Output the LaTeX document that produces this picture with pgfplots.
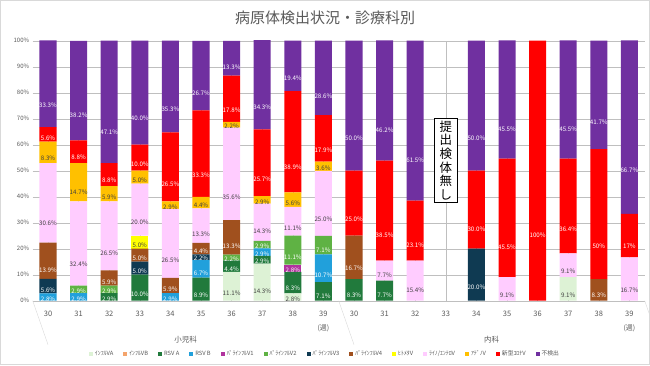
\documentclass[border=0pt]{standalone}
\usepackage{fontspec}
\setmainfont{Noto Sans CJK JP}
\usepackage{pgfplots}
\pgfplotsset{compat=1.18}
\definecolor{cIA}{HTML}{DDF2D5}
\definecolor{cIB}{HTML}{F4A46C}
\definecolor{cRA}{HTML}{217A3C}
\definecolor{cRB}{HTML}{21A0DB}
\definecolor{cP1}{HTML}{B1339E}
\definecolor{cP2}{HTML}{5FB244}
\definecolor{cP3}{HTML}{0F3A52}
\definecolor{cP4}{HTML}{A0501E}
\definecolor{cHM}{HTML}{FFFF00}
\definecolor{cRE}{HTML}{FFCCFF}
\definecolor{cAD}{HTML}{FFC000}
\definecolor{cCV}{HTML}{FF0000}
\definecolor{cND}{HTML}{7030A0}
\definecolor{txt}{HTML}{595959}
\definecolor{dark}{HTML}{404040}
\definecolor{grid}{HTML}{D9D9D9}
\begin{document}
\begin{tikzpicture}
\path[use as bounding box] (0,0) rectangle (650pt,365pt);
\draw[color=grid] (0.5pt,0.5pt) rectangle (649.5pt,364.5pt);
\node[font=\fontsize{15}{17}\selectfont, text=txt] at (325pt,347pt) {病原体検出状況・診療科別};
\begin{axis}[
  at={(32.7pt,64.3pt)}, anchor=south west,
  scale only axis, width=612pt, height=260pt,
  clip=false,
  ybar stacked, bar width=0.556,
  xmin=-0.5, xmax=19.5, ymin=0, ymax=100,
  enlargelimits=false,
  xtick={0,...,19},
  xticklabels={30,31,32,33,34,35,36,37,38,39,30,31,32,33,34,35,36,37,38,39},
  xticklabel style={font=\fontsize{7.5}{9}\selectfont, text=txt, yshift=-7pt},
  xtick style={draw=none}, ytick style={draw=none},
  ytick={0,10,...,100},
  yticklabel={\pgfmathprintnumber{\tick}\%},
  yticklabel style={font=\fontsize{6}{7}\selectfont, text=txt},
  /pgf/number format/assume math mode=true,
  ymajorgrids, grid style={grid},
  axis line style={draw=none},
  every axis plot/.append style={draw=none},
  visualization depends on={value \thisrow{y}\as\rawy},
  point meta=explicit symbolic,
  nodes near coords,
  every node near coord/.append style={font=\fontsize{6.2}{7}\selectfont, anchor=center, yshift=-0.65pt*\rawy, inner sep=0pt},
  legend columns=13,
  legend style={at={(axis description cs:0.4776,-0.205)}, anchor=center, draw=none, font=\fontsize{5.8}{7}\selectfont, text=txt, /tikz/every even column/.append style={column sep=8pt}},
  legend image code/.code={\fill[#1] (0pt,-2pt) rectangle (4pt,2pt);},
]
% インフルA
\addplot[fill=cIA, nodes near coords style={text=dark}] table[row sep=\\, meta=l]{x y l\\
0 0 {}\\ 1 0 {}\\ 2 0 {}\\ 3 0 {}\\ 4 0 {}\\ 5 0 {}\\ 6 11.1 11.1\%\\ 7 14.3 14.3\%\\ 8 2.8 2.8\%\\ 9 0 {}\\
10 0 {}\\ 11 0 {}\\ 12 0 {}\\ 13 0 {}\\ 14 0 {}\\ 15 0 {}\\ 16 0 {}\\ 17 9.1 9.1\%\\ 18 0 {}\\ 19 0 {}\\};
\addlegendentry{ｲﾝﾌﾙVA}
% インフルB
\addplot[fill=cIB, nodes near coords style={text=white}] table[row sep=\\, meta=l]{x y l\\
0 0 {}\\ 1 0 {}\\ 2 0 {}\\ 3 0 {}\\ 4 0 {}\\ 5 0 {}\\ 6 0 {}\\ 7 0 {}\\ 8 0 {}\\ 9 0 {}\\
10 0 {}\\ 11 0 {}\\ 12 0 {}\\ 13 0 {}\\ 14 0 {}\\ 15 0 {}\\ 16 0 {}\\ 17 0 {}\\ 18 0 {}\\ 19 0 {}\\};
\addlegendentry{ｲﾝﾌﾙVB}
% RSV A
\addplot[fill=cRA, nodes near coords style={text=white}] table[row sep=\\, meta=l]{x y l\\
0 0 {}\\ 1 0 {}\\ 2 2.9 2.9\%\\ 3 10.0 10.0\%\\ 4 0 {}\\ 5 8.9 8.9\%\\ 6 4.4 4.4\%\\ 7 2.9 2.9\%\\ 8 8.3 8.3\%\\ 9 7.1 7.1\%\\
10 8.3 8.3\%\\ 11 7.7 7.7\%\\ 12 0 {}\\ 13 0 {}\\ 14 0 {}\\ 15 0 {}\\ 16 0 {}\\ 17 0 {}\\ 18 0 {}\\ 19 0 {}\\};
\addlegendentry{RSV A}
% RSV B
\addplot[fill=cRB, nodes near coords style={text=white}] table[row sep=\\, meta=l]{x y l\\
0 2.8 2.8\%\\ 1 2.9 2.9\%\\ 2 0 {}\\ 3 0 {}\\ 4 2.9 2.9\%\\ 5 6.7 6.7\%\\ 6 0 {}\\ 7 2.9 2.9\%\\ 8 0 {}\\ 9 10.7 10.7\%\\
10 0 {}\\ 11 0 {}\\ 12 0 {}\\ 13 0 {}\\ 14 0 {}\\ 15 0 {}\\ 16 0 {}\\ 17 0 {}\\ 18 0 {}\\ 19 0 {}\\};
\addlegendentry{RSV B}
% パラV1
\addplot[fill=cP1, nodes near coords style={text=white}] table[row sep=\\, meta=l]{x y l\\
0 0 {}\\ 1 0 {}\\ 2 0 {}\\ 3 0 {}\\ 4 0 {}\\ 5 0 {}\\ 6 0 {}\\ 7 0 {}\\ 8 2.8 2.8\%\\ 9 0 {}\\
10 0 {}\\ 11 0 {}\\ 12 0 {}\\ 13 0 {}\\ 14 0 {}\\ 15 0 {}\\ 16 0 {}\\ 17 0 {}\\ 18 0 {}\\ 19 0 {}\\};
\addlegendentry{ﾊﾟﾗｲﾝﾌﾙV1}
% パラV2
\addplot[fill=cP2, nodes near coords style={text=white}] table[row sep=\\, meta=l]{x y l\\
0 0 {}\\ 1 2.9 2.9\%\\ 2 2.9 2.9\%\\ 3 0 {}\\ 4 0 {}\\ 5 0 {}\\ 6 2.2 2.2\%\\ 7 2.9 2.9\%\\ 8 11.1 11.1\%\\ 9 7.1 7.1\%\\
10 0 {}\\ 11 0 {}\\ 12 0 {}\\ 13 0 {}\\ 14 0 {}\\ 15 0 {}\\ 16 0 {}\\ 17 0 {}\\ 18 0 {}\\ 19 0 {}\\};
\addlegendentry{ﾊﾟﾗｲﾝﾌﾙV2}
% パラV3
\addplot[fill=cP3, nodes near coords style={text=white}] table[row sep=\\, meta=l]{x y l\\
0 5.6 5.6\%\\ 1 0 {}\\ 2 0 {}\\ 3 5.0 5.0\%\\ 4 0 {}\\ 5 2.2 2.2\%\\ 6 0 {}\\ 7 0 {}\\ 8 0 {}\\ 9 0 {}\\
10 0 {}\\ 11 0 {}\\ 12 0 {}\\ 13 0 {}\\ 14 20.0 20.0\%\\ 15 0 {}\\ 16 0 {}\\ 17 0 {}\\ 18 0 {}\\ 19 0 {}\\};
\addlegendentry{ﾊﾟﾗｲﾝﾌﾙV3}
% パラV4
\addplot[fill=cP4, nodes near coords style={text=white}] table[row sep=\\, meta=l]{x y l\\
0 13.9 13.9\%\\ 1 0 {}\\ 2 5.9 5.9\%\\ 3 5.0 5.0\%\\ 4 5.9 5.9\%\\ 5 4.4 4.4\%\\ 6 13.3 13.3\%\\ 7 0 {}\\ 8 0 {}\\ 9 0 {}\\
10 16.7 16.7\%\\ 11 0 {}\\ 12 0 {}\\ 13 0 {}\\ 14 0 {}\\ 15 0 {}\\ 16 0 {}\\ 17 0 {}\\ 18 8.3 8.3\%\\ 19 0 {}\\};
\addlegendentry{ﾊﾟﾗｲﾝﾌﾙV4}
% ヒトメタ
\addplot[fill=cHM, nodes near coords style={text=dark}] table[row sep=\\, meta=l]{x y l\\
0 0 {}\\ 1 0 {}\\ 2 0 {}\\ 3 5.0 5.0\%\\ 4 0 {}\\ 5 0 {}\\ 6 0 {}\\ 7 0 {}\\ 8 0 {}\\ 9 0 {}\\
10 0 {}\\ 11 0 {}\\ 12 0 {}\\ 13 0 {}\\ 14 0 {}\\ 15 0 {}\\ 16 0 {}\\ 17 0 {}\\ 18 0 {}\\ 19 0 {}\\};
\addlegendentry{ﾋﾄﾒﾀV}
% ライノ/エンテロ
\addplot[fill=cRE, nodes near coords style={text=dark}] table[row sep=\\, meta=l]{x y l\\
0 30.6 30.6\%\\ 1 32.4 32.4\%\\ 2 26.5 26.5\%\\ 3 20.0 20.0\%\\ 4 26.5 26.5\%\\ 5 13.3 13.3\%\\ 6 35.6 35.6\%\\ 7 14.3 14.3\%\\ 8 11.1 11.1\%\\ 9 25.0 25.0\%\\
10 0 {}\\ 11 7.7 7.7\%\\ 12 15.4 15.4\%\\ 13 0 {}\\ 14 0 {}\\ 15 9.1 9.1\%\\ 16 0 {}\\ 17 9.1 9.1\%\\ 18 0 {}\\ 19 16.7 16.7\%\\};
\addlegendentry{ﾗｲﾉ/ｴﾝﾃﾛV}
% アデノ
\addplot[fill=cAD, nodes near coords style={text=dark}] table[row sep=\\, meta=l]{x y l\\
0 8.3 8.3\%\\ 1 14.7 14.7\%\\ 2 5.9 5.9\%\\ 3 5.0 5.0\%\\ 4 2.9 2.9\%\\ 5 4.4 4.4\%\\ 6 2.2 2.2\%\\ 7 2.9 2.9\%\\ 8 5.6 5.6\%\\ 9 3.6 3.6\%\\
10 0 {}\\ 11 0 {}\\ 12 0 {}\\ 13 0 {}\\ 14 0 {}\\ 15 0 {}\\ 16 0 {}\\ 17 0 {}\\ 18 0 {}\\ 19 0 {}\\};
\addlegendentry{ｱﾃﾞﾉV}
% 新型コロナ
\addplot[fill=cCV, nodes near coords style={text=white}] table[row sep=\\, meta=l]{x y l\\
0 5.6 5.6\%\\ 1 8.8 8.8\%\\ 2 8.8 8.8\%\\ 3 10.0 10.0\%\\ 4 26.5 26.5\%\\ 5 33.3 33.3\%\\ 6 17.8 17.8\%\\ 7 25.7 25.7\%\\ 8 38.9 38.9\%\\ 9 17.9 17.9\%\\
10 25.0 25.0\%\\ 11 38.5 38.5\%\\ 12 23.1 23.1\%\\ 13 0 {}\\ 14 30.0 30.0\%\\ 15 45.5 45.5\%\\ 16 100 100\%\\ 17 36.4 36.4\%\\ 18 50 50\%\\ 19 16.7 17\%\\};
\addlegendentry{新型ｺﾛﾅV}
% 不検出
\addplot[fill=cND, nodes near coords style={text=white}] table[row sep=\\, meta=l]{x y l\\
0 33.3 33.3\%\\ 1 38.2 38.2\%\\ 2 47.1 47.1\%\\ 3 40.0 40.0\%\\ 4 35.3 35.3\%\\ 5 26.7 26.7\%\\ 6 13.3 13.3\%\\ 7 34.3 34.3\%\\ 8 19.4 19.4\%\\ 9 28.6 28.6\%\\
10 50.0 50.0\%\\ 11 46.2 46.2\%\\ 12 61.5 61.5\%\\ 13 0 {}\\ 14 50.0 50.0\%\\ 15 45.5 45.5\%\\ 16 0 {}\\ 17 45.5 45.5\%\\ 18 41.7 41.7\%\\ 19 66.7 66.7\%\\};
\addlegendentry{不検出}
% decorations
\draw[grid] (axis cs:-0.5,0) -- ++(0,-44pt);
\draw[grid] (axis cs:9.5,0) -- ++(0,-44pt);
\draw[grid] (axis cs:19.5,0) -- ++(0,-44pt);
\node[font=\fontsize{7}{8}\selectfont, text=txt] at (axis cs:9,0) [yshift=-28pt] {(週)};
\node[font=\fontsize{7}{8}\selectfont, text=txt] at (axis cs:19,0) [yshift=-28pt] {(週)};
\node[font=\fontsize{7.5}{9}\selectfont, text=txt] at (axis cs:4.5,0) [yshift=-39pt] {小児科};
\node[font=\fontsize{7.5}{9}\selectfont, text=txt] at (axis cs:14.5,0) [yshift=-39pt] {内科};
\node[draw=black, line width=0.5pt, fill=white, inner xsep=5pt, inner ysep=2.5pt, align=center, font=\fontsize{12.5}{13.6}\selectfont] at (axis cs:13,54) {提\\出\\検\\体\\無\\し};
\end{axis}
\end{tikzpicture}
\end{document}
